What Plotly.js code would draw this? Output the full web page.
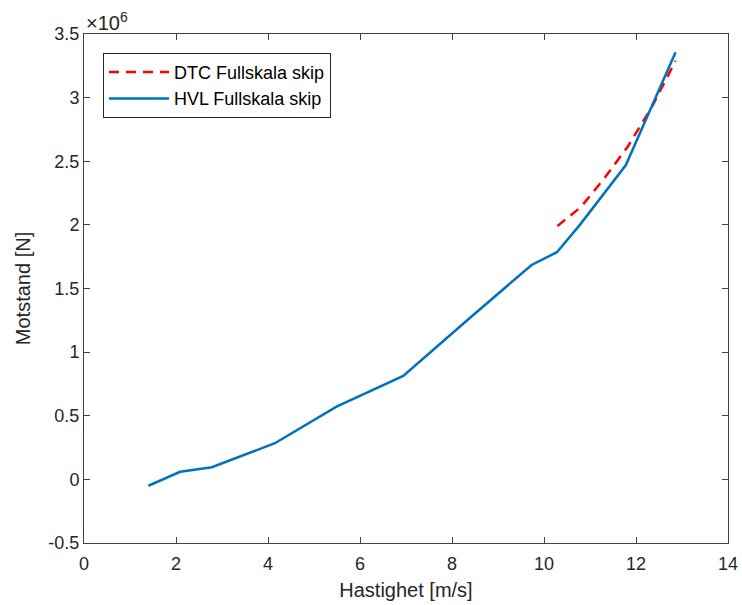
<!DOCTYPE html>
<html>
<head>
<meta charset="utf-8">
<script src="https://cdn.plot.ly/plotly-3.0.1.min.js"></script>
<style>html,body{margin:0;padding:0;background:#fff;}#chart{width:742px;height:605px;}</style>
</head>
<body>
<div id="chart"></div>
<script>
// HVL Fullskala skip
const hvlSpeed = [1.40, 2.09, 2.78, 4.15, 5.49, 6.94, 8.33, 9.73, 10.28, 10.78, 11.78, 12.86];
const hvlForce = [-0.05e6, 0.06e6, 0.095e6, 0.284e6, 0.571e6, 0.813e6, 1.25e6, 1.685e6, 1.785e6, 2.0e6, 2.47e6, 3.356e6];
// DTC Fullskala skip
const dtcSpeed = [10.29, 10.80, 11.30, 11.83, 12.35, 12.86];
const dtcForce = [1.99e6, 2.14e6, 2.36e6, 2.62e6, 2.93e6, 3.29e6];

const xTicks = [0, 2, 4, 6, 8, 10, 12, 14];
const yTickVals = [-0.5e6, 0, 0.5e6, 1e6, 1.5e6, 2e6, 2.5e6, 3e6, 3.5e6];
const yTickText = ['-0.5', '0', '0.5', '1', '1.5', '2', '2.5', '3', '3.5'];

const fam = 'Liberation Sans, Arial, sans-serif';
const font = {family: fam, size: 18, color: '#262626'};

const traces = [
  {x: dtcSpeed, y: dtcForce, type: 'scatter', mode: 'lines', name: 'DTC Fullskala skip',
   line: {color: '#FF0000', width: 2.5, dash: '10px,7px'}},
  {x: hvlSpeed, y: hvlForce, type: 'scatter', mode: 'lines', name: 'HVL Fullskala skip',
   line: {color: '#0072BD', width: 2.5}}
];

const axisCommon = {
  showgrid: false, zeroline: false, showline: true, mirror: 'ticks',
  linecolor: '#404040', linewidth: 1, ticks: 'inside', ticklen: 6,
  tickcolor: '#404040', tickfont: font
};

const layout = {
  width: 742, height: 605,
  margin: {l: 84, r: 14, t: 34, b: 62},
  paper_bgcolor: '#fff', plot_bgcolor: '#fff',
  font: font,
  showlegend: true,
  legend: {x: 0.0295, y: 0.963, xanchor: 'left', yanchor: 'top',
           bgcolor: '#fff', bordercolor: '#262626', borderwidth: 1,
           font: {family: fam, size: 18, color: '#000'},
           itemwidth: 60, tracegroupgap: 0},
  xaxis: Object.assign({}, axisCommon, {
    range: [0, 14], tickvals: xTicks, ticklabelstandoff: 4,
    title: {text: 'Hastighet [m/s]', font: {family: fam, size: 20, color: '#262626'}, standoff: 10}
  }),
  yaxis: Object.assign({}, axisCommon, {
    range: [-0.5e6, 3.5e6], tickvals: yTickVals, ticktext: yTickText,
    title: {text: 'Motstand [N]', font: {family: fam, size: 20, color: '#262626'}, standoff: 12}
  }),
  annotations: [{
    text: '×10<sup>6</sup>', xref: 'paper', yref: 'paper', x: 0, y: 1,
    xanchor: 'left', yanchor: 'bottom', showarrow: false, yshift: -2,
    font: {family: fam, size: 20, color: '#262626'}
  }]
};

Plotly.newPlot('chart', traces, layout, {displayModeBar: false, staticPlot: true});
</script>
</body>
</html>
